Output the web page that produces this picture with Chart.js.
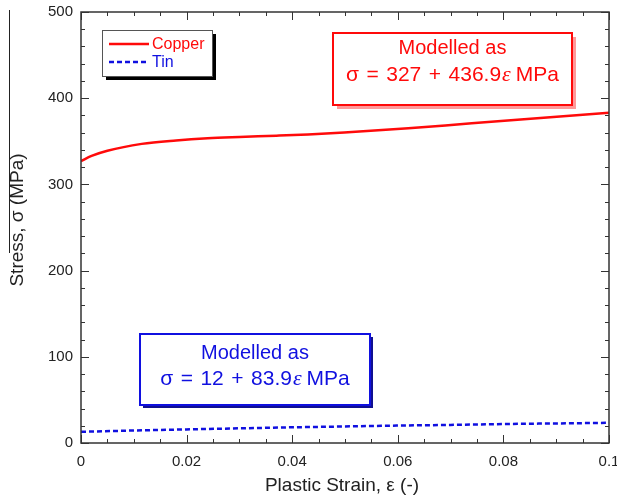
<!DOCTYPE html>
<html>
<head>
<meta charset="utf-8">
<script src="https://cdn.jsdelivr.net/npm/chart.js@4/dist/chart.umd.min.js"></script>
<style>
  html, body { margin: 0; padding: 0; background: #fff; }
  #c { display: block; }
</style>
</head>
<body>
<canvas id="c" width="617" height="500"></canvas>
<script>
// ---- data ----
const copperStrain = [0, 0.002, 0.005, 0.0115, 0.018, 0.024, 0.030, 0.037, 0.043, 0.049, 0.062, 0.074, 0.087, 0.1];
const copperStress = [327, 333, 339, 347, 351, 353.5, 355, 356.5, 358, 360, 365, 371, 377, 383];
const tinStrain = [0, 0.01, 0.02, 0.03, 0.04, 0.05, 0.06, 0.07, 0.08, 0.09, 0.1];
const tinStress = [13, 14.5, 15.8, 17, 18.2, 19.2, 20.2, 21, 22, 22.7, 23.4];
const xTickLabels = ["0", "0.02", "0.04", "0.06", "0.08", "0.1"];
const yTickLabels = ["0", "100", "200", "300", "400", "500"];
const seriesNames = ["Copper", "Tin"];
const xTitle = "Plastic Strain, \u03B5 (-)";
const yTitle = "Stress, \u03C3 (MPa)";
const copperModelTitle = "Modelled as";
const copperModelTokens = ["\u03C3", "=", "327", "+", "436.9", "\u03B5", "MPa"];
const tinModelTitle = "Modelled as";
const tinModelTokens = ["\u03C3", "=", "12", "+", "83.9", "\u03B5", "MPa"];

const RED = '#ff0a0a';
const BLUE = '#1010e0';
const FONT = '"Liberation Sans", Arial, sans-serif';

function toPts(xs, ys) { return xs.map((x, i) => ({ x: x, y: ys[i] })); }

function drawModelBox(ctx, box, title, tokens, color, shadow, shadowOff) {
  ctx.save();
  ctx.fillStyle = shadow;
  ctx.fillRect(box.x + shadowOff, box.y + shadowOff, box.w, box.h);
  ctx.fillStyle = '#fff';
  ctx.fillRect(box.x, box.y, box.w, box.h);
  ctx.strokeStyle = color;
  ctx.lineWidth = 2;
  ctx.strokeRect(box.x, box.y, box.w, box.h);
  ctx.fillStyle = color;
  ctx.textBaseline = 'middle';
  const cx = box.x + box.w / 2;
  ctx.font = '20px ' + FONT;
  ctx.textAlign = 'center';
  ctx.fillText(title, cx, box.l1);
  ctx.textAlign = 'left';
  const fN = '21px ' + FONT;
  const fI = 'italic 22px "Liberation Serif", "Times New Roman", serif';
  const gap = 7.5;
  // measure
  const pieces = tokens.map((t, i) => {
    const f = (i === 5) ? fI : fN;
    ctx.font = f;
    return { t: t, f: f, w: ctx.measureText(t).width };
  });
  const gaps = [gap, gap, gap, gap, 1, 5];
  let total = pieces.reduce((s, p) => s + p.w, 0) + gaps.reduce((s, g) => s + g, 0);
  let x = cx - total / 2;
  pieces.forEach((p, i) => {
    ctx.font = p.f;
    ctx.fillText(p.t, x, box.l2);
    x += p.w + (i < gaps.length ? gaps[i] : 0);
  });
  ctx.restore();
}

const decor = {
  id: 'decor',
  afterDraw(chart) {
    const ctx = chart.ctx;
    const a = chart.chartArea;
    const xs = chart.scales.x, ys = chart.scales.y;
    ctx.save();
    // frame
    ctx.strokeStyle = '#333';
    ctx.lineWidth = 1.5;
    ctx.strokeRect(a.left, a.top, a.right - a.left, a.bottom - a.top);
    // inward ticks
    ctx.lineWidth = 1;
    ctx.beginPath();
    for (let i = 0; i <= 20; i++) {
      const v = i * 0.005;
      const px = Math.round(xs.getPixelForValue(v)) + 0.5;
      const len = (i % 4 === 0) ? 8 : 4;
      ctx.moveTo(px, a.bottom); ctx.lineTo(px, a.bottom - len);
      ctx.moveTo(px, a.top); ctx.lineTo(px, a.top + len);
    }
    for (let i = 0; i <= 25; i++) {
      const v = i * 20;
      const py = Math.round(ys.getPixelForValue(v)) + 0.5;
      const len = (i % 5 === 0) ? 8 : 4;
      ctx.moveTo(a.left, py); ctx.lineTo(a.left + len, py);
      ctx.moveTo(a.right, py); ctx.lineTo(a.right - len, py);
    }
    ctx.stroke();
    // stray vertical line at far left (as in reference)
    ctx.beginPath();
    ctx.strokeStyle = '#222';
    ctx.lineWidth = 1;
    ctx.moveTo(9.5, 10); ctx.lineTo(9.5, 253);
    ctx.stroke();

    // axis titles
    ctx.fillStyle = '#222';
    ctx.font = '19px ' + FONT;
    ctx.textAlign = 'center';
    ctx.textBaseline = 'middle';
    ctx.fillText(xTitle, 342, 486);
    ctx.save();
    ctx.translate(18, 220);
    ctx.rotate(-Math.PI / 2);
    ctx.fillText(yTitle, 0, 0);
    ctx.restore();

    // legend
    const lg = { x: 102, y: 30, w: 110, h: 46 };
    ctx.fillStyle = '#000';
    ctx.fillRect(lg.x + 4, lg.y + 4, lg.w, lg.h);
    ctx.fillStyle = '#fff';
    ctx.fillRect(lg.x, lg.y, lg.w, lg.h);
    ctx.strokeStyle = '#555';
    ctx.lineWidth = 1;
    ctx.strokeRect(lg.x + 0.5, lg.y + 0.5, lg.w, lg.h);
    chart.data.datasets.forEach((ds, i) => {
      const yy = lg.y + 14 + i * 18;
      ctx.beginPath();
      ctx.strokeStyle = ds.borderColor;
      ctx.lineWidth = 2.5;
      ctx.setLineDash(ds.borderDash || []);
      ctx.moveTo(lg.x + 7, yy); ctx.lineTo(lg.x + 47, yy);
      ctx.stroke();
      ctx.setLineDash([]);
      ctx.fillStyle = ds.borderColor;
      ctx.font = '16px ' + FONT;
      ctx.textAlign = 'left';
      ctx.textBaseline = 'middle';
      ctx.fillText(ds.label, lg.x + 50, yy + 1);
    });

    drawModelBox(ctx, { x: 333, y: 33, w: 239, h: 72, l1: 48, l2: 75 },
      copperModelTitle, copperModelTokens, RED, 'rgba(255,70,70,0.55)', 4);
    drawModelBox(ctx, { x: 140, y: 334, w: 230, h: 71, l1: 353, l2: 379 },
      tinModelTitle, tinModelTokens, BLUE, '#101090', 3);
    ctx.restore();
  }
};

new Chart(document.getElementById('c'), {
  type: 'scatter',
  data: {
    datasets: [
      {
        label: seriesNames[0],
        data: toPts(copperStrain, copperStress),
        showLine: true,
        borderColor: RED,
        borderWidth: 2.5,
        pointRadius: 0,
        cubicInterpolationMode: 'monotone',
        fill: false
      },
      {
        label: seriesNames[1],
        data: toPts(tinStrain, tinStress),
        showLine: true,
        borderColor: BLUE,
        borderWidth: 2.5,
        borderDash: [5, 3],
        pointRadius: 0,
        cubicInterpolationMode: 'monotone',
        fill: false
      }
    ]
  },
  options: {
    responsive: false,
    animation: false,
    devicePixelRatio: 1,
    layout: { padding: { left: 0, right: 8, top: 12, bottom: 0 } },
    plugins: { legend: { display: false }, tooltip: { enabled: false } },
    scales: {
      x: {
        type: 'linear',
        min: 0, max: 0.1,
        grid: { display: false, drawTicks: false },
        border: { display: false },
        ticks: {
          stepSize: 0.02,
          padding: 10,
          color: '#222',
          font: { family: FONT, size: 15 },
          maxRotation: 0,
          callback: (v, i) => xTickLabels[i]
        },
        title: { display: false },
        afterFit: (s) => { s.height = 57; s.paddingLeft = 0; s.paddingRight = 0; }
      },
      y: {
        type: 'linear',
        min: 0, max: 500,
        grid: { display: false, drawTicks: false },
        border: { display: false },
        ticks: {
          stepSize: 100,
          padding: 8,
          color: '#222',
          font: { family: FONT, size: 15 },
          callback: (v, i) => yTickLabels[i]
        },
        title: { display: false },
        afterFit: (s) => { s.width = 81; s.paddingTop = 0; s.paddingBottom = 0; }
      }
    }
  },
  plugins: [decor]
});
</script>
</body>
</html>
